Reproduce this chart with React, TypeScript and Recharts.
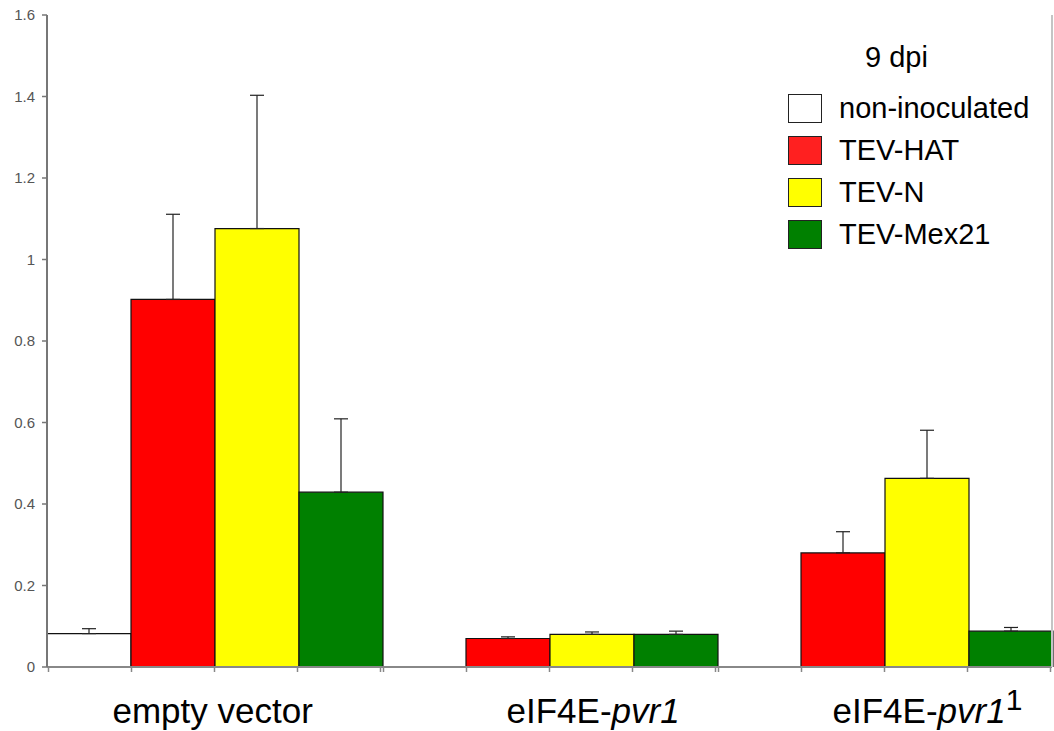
import React from "react";
import { BarChart, Bar, XAxis, YAxis, ErrorBar } from "recharts";

const genotypes = ["empty vector", "eIF4E-pvr1", "eIF4E-pvr1¹"];
const seriesNames = ["non-inoculated", "TEV-HAT", "TEV-N", "TEV-Mex21"];
const seriesColors = ["#ffffff", "#ff0000", "#ffff00", "#008000"];
const legendColors = ["#ffffff", "#ff2020", "#ffff00", "#008000"];

const nonInoculated = [0.082, null, null];
const tevHat = [0.902, 0.07, 0.28];
const tevN = [1.076, 0.08, 0.463];
const tevMex21 = [0.429, 0.08, 0.088];

// upper error (SD), lower side not drawn
const errNonInoculated = [0.012, null, null];
const errHat = [0.209, 0.004, 0.052];
const errN = [0.327, 0.006, 0.118];
const errMex21 = [0.18, 0.008, 0.009];

const yTicks = [0, 0.2, 0.4, 0.6, 0.8, 1, 1.2, 1.4, 1.6];

const W = 1054;
const H = 731;
const PLOT_LEFT = 47;
const PLOT_RIGHT = 1052;
const PLOT_BOTTOM = 667;
const BAND = (PLOT_RIGHT - PLOT_LEFT) / genotypes.length;
const FONT = "'Liberation Sans', Arial, Helvetica, sans-serif";

const values = [nonInoculated, tevHat, tevN, tevMex21];
const errors = [errNonInoculated, errHat, errN, errMex21];

const data = genotypes.map((g, i) => {
  const row: Record<string, any> = { genotype: g };
  values.forEach((v, s) => {
    row[`s${s}`] = v[i];
    row[`e${s}`] = errors[s][i] == null ? null : [0, errors[s][i]];
  });
  return row;
});

// label start relative to the category centre
const labelShift = [-102, -43, -52];

function GenotypeTick(props: any) {
  const { x, index, payload } = props;
  const barW = Math.floor(BAND / 4);
  const left = x - 2 * barW;
  const label: string = payload.value;
  const marks = [0, 1, 2, 3, 4].map((k) => (
    <line
      key={k}
      x1={left + k * barW}
      x2={left + k * barW}
      y1={PLOT_BOTTOM}
      y2={PLOT_BOTTOM + 5}
      stroke="#888"
      strokeWidth={1.5}
    />
  ));
  let text: React.ReactNode = label;
  if (label.includes("-")) {
    const cut = label.indexOf("-") + 1;
    const head = label.slice(0, cut);
    let rest = label.slice(cut);
    const sup = rest.endsWith("¹");
    if (sup) rest = rest.slice(0, -1);
    text = (
      <>
        <tspan>{head}</tspan>
        <tspan fontStyle="italic">{rest}</tspan>
        {sup && (
          <tspan dy={-13} fontSize={30}>
            1
          </tspan>
        )}
      </>
    );
  }
  return (
    <g>
      {marks}
      <text
        x={x + labelShift[index]}
        y={723}
        textAnchor="start"
        fontSize={35}
        fontFamily={FONT}
        fill="#000"
      >
        {text}
      </text>
    </g>
  );
}

function ChartLegend() {
  return (
    <div style={{ position: "absolute", left: 788, top: 38, fontFamily: FONT, fontSize: 29, color: "#000" }}>
      <div style={{ position: "absolute", left: 77, top: 0, lineHeight: "38px", whiteSpace: "nowrap" }}>9 dpi</div>
      {seriesNames.map((name, i) => (
        <div key={name} style={{ position: "absolute", left: 0, top: 55 + i * 42, display: "flex", alignItems: "center", whiteSpace: "nowrap" }}>
          <span
            style={{
              display: "inline-block",
              width: 32,
              height: 27,
              background: legendColors[i],
              border: "1.5px solid #222",
              marginRight: 17,
            }}
          />
          <span style={{ lineHeight: "30px" }}>{name}</span>
        </div>
      ))}
    </div>
  );
}

export default function App() {
  return (
    <div style={{ position: "absolute", left: 0, top: 0, width: W, height: H, background: "#fff" }}>
      <BarChart
        width={W}
        height={H}
        data={data}
        margin={{ top: 15, right: 0, bottom: 0, left: 0 }}
        barCategoryGap={0}
        barGap={0}
      >
        <XAxis
          dataKey="genotype"
          height={64}
          axisLine={{ stroke: "#888", strokeWidth: 2 }}
          tickLine={false}
          tick={<GenotypeTick />}
          interval={0}
        />
        <XAxis
          xAxisId="top"
          dataKey="genotype"
          orientation="top"
          height={0}
          tick={false}
          tickLine={false}
          axisLine={{ stroke: "#c4c4c4", strokeWidth: 2 }}
        />
        <YAxis
          width={PLOT_LEFT}
          domain={[0, 1.6]}
          ticks={yTicks}
          interval={0}
          allowDataOverflow
          axisLine={{ stroke: "#777", strokeWidth: 2 }}
          tickLine={{ stroke: "#777", strokeWidth: 1.5 }}
          tickSize={5}
          tickMargin={7}
          tick={{ fontSize: 15, fill: "#555", fontFamily: FONT }}
        />
        <YAxis
          yAxisId="right"
          orientation="right"
          width={W - PLOT_RIGHT}
          domain={[0, 1.6]}
          tick={false}
          tickLine={false}
          axisLine={{ stroke: "#c4c4c4", strokeWidth: 2 }}
        />
        {seriesNames.map((name, s) => (
          <Bar
            key={name}
            dataKey={`s${s}`}
            name={name}
            fill={seriesColors[s]}
            stroke="#111"
            strokeWidth={1.2}
            isAnimationActive={false}
          >
            <ErrorBar dataKey={`e${s}`} width={7} stroke="#222" strokeWidth={1.2} direction="y" />
          </Bar>
        ))}
      </BarChart>
      <ChartLegend />
    </div>
  );
}
